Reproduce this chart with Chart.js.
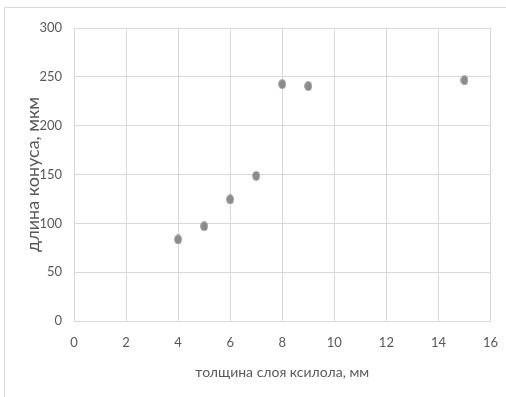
<!DOCTYPE html>
<html>
<head>
<meta charset="utf-8">
<script src="https://cdn.jsdelivr.net/npm/chart.js@4/dist/chart.umd.min.js"></script>
<style>
html,body{margin:0;padding:0;background:#fff;}
#wrap{position:absolute;left:0;top:0;width:506px;height:397px;}
</style>
</head>
<body>
<div id="wrap"><canvas id="c" width="506" height="397"></canvas></div>
<script>
const xValues = [4, 5, 6, 7, 8, 9, 15];
const yValues = [83.5, 97, 124.5, 148.5, 242.5, 240.5, 246.5];
const xTitle = 'толщина слоя ксилола, мм';
const yTitle = 'длина конуса, мкм';

const FONT = "Lato, 'Open Sans', sans-serif";

function ellipseDot() {
  const cv = document.createElement('canvas');
  cv.width = 8; cv.height = 10;
  const g = cv.getContext('2d');
  g.fillStyle = '#8c8c8c';
  g.beginPath();
  g.ellipse(4, 5, 3.8, 4.8, 0, 0, Math.PI * 2);
  g.fill();
  return cv;
}

const frame = {
  id: 'frame',
  beforeDraw(chart) {
    const ctx = chart.ctx;
    ctx.save();
    ctx.strokeStyle = '#d9d9d9';
    ctx.lineWidth = 1;
    ctx.beginPath();
    ctx.moveTo(4.5, 397);
    ctx.lineTo(4.5, 7.5);
    ctx.lineTo(506, 7.5);
    ctx.stroke();
    ctx.restore();
  }
};

new Chart(document.getElementById('c'), {
  type: 'scatter',
  data: {
    datasets: [{
      data: xValues.map((x, i) => ({x: x, y: yValues[i]})),
      pointStyle: ellipseDot(),
      pointRadius: 5,
      backgroundColor: '#8c8c8c',
      borderColor: '#8c8c8c'
    }]
  },
  plugins: [frame],
  options: {
    responsive: false,
    animation: false,
    devicePixelRatio: 1,
    layout: {padding: {left: 0, top: 28, right: 15.5, bottom: 0}},
    plugins: {legend: {display: false}, tooltip: {enabled: false}},
    scales: {
      x: {
        type: 'linear', min: 0, max: 16,
        afterFit(s) { s.height = 76; s.paddingLeft = 0; s.paddingRight = 0; },
        ticks: {stepSize: 2, color: '#595959', padding: 14, font: {family: FONT, size: 13}},
        grid: {color: '#d9d9d9', drawTicks: false},
        border: {display: true, color: '#d9d9d9'},
        title: {display: true, text: xTitle, color: '#595959', font: {family: FONT, size: 14}, padding: {top: 0, bottom: 16}}
      },
      y: {
        type: 'linear', min: 0, max: 300,
        afterFit(s) { s.width = 74; s.paddingTop = 0; s.paddingBottom = 0; },
        ticks: {stepSize: 50, color: '#595959', padding: 12, font: {family: FONT, size: 13}},
        grid: {color: '#d9d9d9', drawTicks: false},
        border: {display: false},
        title: {display: true, text: yTitle, color: '#595959', font: {family: FONT, size: 18}, padding: {top: 22, bottom: 0}}
      }
    }
  }
});
</script>
</body>
</html>
